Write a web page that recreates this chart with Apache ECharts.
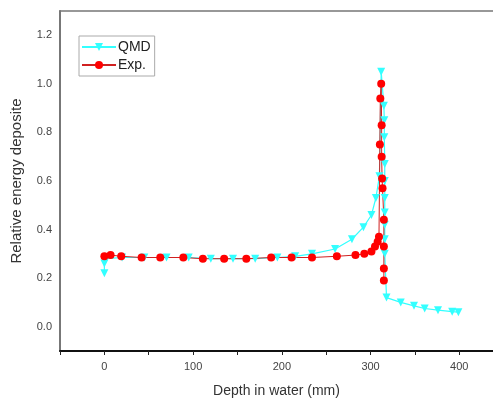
<!DOCTYPE html>
<html>
<head>
<meta charset="utf-8">
<script src="https://cdn.jsdelivr.net/npm/echarts@6/dist/echarts.min.js"></script>
<style>html,body{margin:0;padding:0;background:#fff}#c{width:493px;height:401px}</style>
</head>
<body>
<div id="c"></div>
<script>
// Depth (mm) and relative energy deposit
const expDepth = [0, 7, 19, 42, 63, 89, 111, 135, 160, 188, 211, 234, 262, 283, 293, 301, 305, 308, 309.5, 310.5, 311, 312, 312.5, 312.5, 313, 313.5, 315, 315, 315, 315];
const expValue = [0.29, 0.295, 0.29, 0.285, 0.285, 0.285, 0.28, 0.28, 0.28, 0.285, 0.285, 0.285, 0.29, 0.295, 0.30, 0.31, 0.33, 0.35, 0.37, 0.75, 0.94, 1.0, 0.83, 0.70, 0.61, 0.57, 0.44, 0.33, 0.24, 0.19];
const qmdDepth = [0, 0, 2, 20, 45, 70, 95, 120, 145, 170, 195, 215, 234, 260, 279, 292, 301, 306, 310, 312, 315, 315.5, 315.5, 316, 316, 316, 316, 316, 316, 316, 318, 334, 349, 361, 376, 392, 399];
const qmdValue = [0.22, 0.26, 0.28, 0.285, 0.285, 0.285, 0.285, 0.28, 0.28, 0.28, 0.285, 0.29, 0.30, 0.32, 0.36, 0.41, 0.46, 0.53, 0.62, 1.05, 0.91, 0.85, 0.78, 0.67, 0.60, 0.53, 0.47, 0.42, 0.36, 0.30, 0.12, 0.10, 0.086, 0.075, 0.068, 0.062, 0.06];
const seriesNames = ['QMD', 'Exp.'];

const zip = (a, b) => a.map((v, i) => [v, b[i]]);
const chart = echarts.init(document.getElementById('c'), null, {renderer: 'canvas'});
const font = 'Liberation Sans, Arial, sans-serif';
chart.setOption({
  animation: false,
  backgroundColor: '#fff',
  grid: {left: 60, top: 11, right: 0, bottom: 50, containLabel: false, outerBoundsMode: 'none'},
  legend: {
    left: 79, top: 36, orient: 'vertical', itemGap: 4,
    itemWidth: 34, itemHeight: 10,
    borderColor: '#aaa', borderWidth: 1, padding: [4, 4, 4, 2],
    textStyle: {fontFamily: font, fontSize: 14, color: '#222', padding: [0,0,0,-3]},
    data: seriesNames
  },
  xAxis: [{
    type: 'value', min: -50, max: 438, interval: 50,
    axisLine: {show: true, onZero: false, lineStyle: {color: '#111', width: 2}},
    axisTick: {show: true, length: 4, lineStyle: {color: '#222', width: 1}},
    axisLabel: {fontFamily: font, fontSize: 11, color: '#444', margin: 10,
      formatter: v => (Math.round(v) % 100 === 0 ? String(Math.round(v)) : '')},
    splitLine: {show: false},
    name: 'Depth in water (mm)', nameLocation: 'middle', nameGap: 33,
    nameTextStyle: {fontFamily: font, fontSize: 14, color: '#333'}
  }, {
    type: 'value', position: 'top', min: -50, max: 438,
    axisLine: {show: true, onZero: false, lineStyle: {color: '#777', width: 1.5}},
    axisTick: {show: false}, axisLabel: {show: false}, splitLine: {show: false}
  }],
  yAxis: {
    type: 'value', min: -0.1, max: 1.3, interval: 0.1,
    axisLine: {show: true, onZero: false, lineStyle: {color: '#777', width: 2}},
    axisTick: {show: false},
    axisLabel: {fontFamily: font, fontSize: 11, color: '#444', margin: 8,
      formatter: v => { const k = Math.round(v * 10); return (k % 2 === 0 && k >= 0 && k <= 12) ? (k / 10).toFixed(1) : ''; }},
    splitLine: {show: false},
    name: 'Relative energy deposite', nameLocation: 'middle', nameGap: 36,
    nameTextStyle: {fontFamily: font, fontSize: 15, color: '#333'}
  },
  series: [{
    name: 'QMD', type: 'line', data: zip(qmdDepth, qmdValue),
    symbol: 'triangle', symbolRotate: 180, symbolSize: 8,
    itemStyle: {color: '#33ffff'}, lineStyle: {color: '#33ffff', width: 1.2}
  }, {
    name: 'Exp.', type: 'line', data: zip(expDepth, expValue),
    symbol: 'circle', symbolSize: 8,
    itemStyle: {color: '#ff0000'}, lineStyle: {color: '#d02020', width: 1}
  }]
});
</script>
</body>
</html>
